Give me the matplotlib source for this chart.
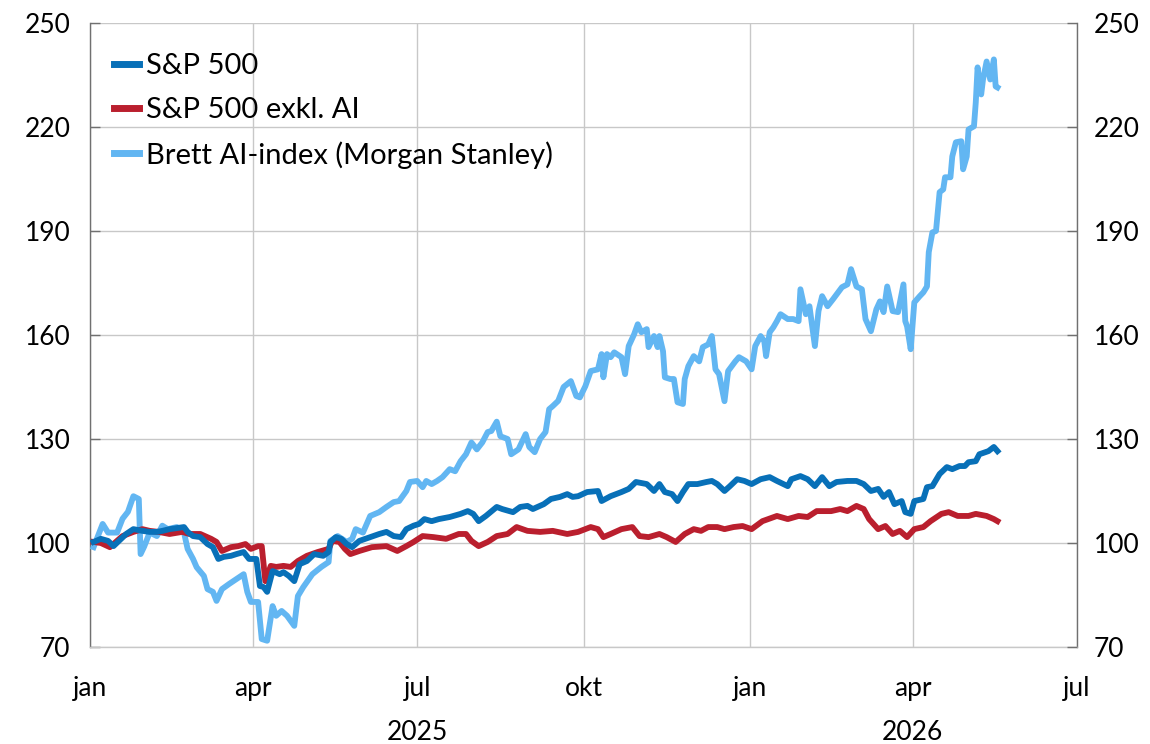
import numpy as np
import matplotlib
matplotlib.use("Agg")
import matplotlib.pyplot as plt
import matplotlib.transforms as mtransforms

# ---------------- data (days since 2025-01-01, index value) ----------------
START = np.datetime64("2025-01-01")

ai_day = [2, 7, 10, 15, 18, 21, 24, 27, 28, 30, 33, 37, 40, 43, 48, 52, 54, 57, 59, 63,
          65, 68, 70, 73, 77, 81, 85, 87, 89, 93, 95, 98, 101, 103, 106, 109, 113, 115, 118, 123,
          128, 132, 133, 137, 142, 145, 147, 151, 155, 160, 164, 168, 171, 175, 177, 181, 184, 186, 189, 192,
          195, 199, 202, 205, 208, 211, 214, 217, 220, 222, 225, 227, 231, 233, 237, 241, 243, 246, 249, 252,
          254, 256, 259, 262, 266, 269, 271, 274, 277, 281, 283, 284, 286, 288, 290, 294, 296, 298, 301, 303,
          305, 308, 309, 312, 314, 315, 317, 318, 321, 323, 325, 328, 329, 331, 334, 337, 339, 342, 344, 346,
          348, 351, 353, 357, 359, 363, 366, 368, 371, 373, 374, 376, 378, 380, 382, 386, 389, 392, 393, 396,
          398, 401, 403, 405, 408, 411, 416, 419, 421, 424, 427, 429, 432, 435, 437, 439, 441, 444, 447, 450,
          451, 452, 454, 456, 459, 461, 463, 464, 466, 468, 470, 472, 473, 476, 477, 479, 482, 483, 485, 486,
          489, 490, 491, 493, 494, 496, 498, 500, 501, 502]
ai_val = [98.8, 105.5, 103, 103, 107, 109, 113.5, 112.7, 96.8, 99, 103, 102, 105, 104, 104.6, 103, 98.3, 95.4, 93, 90.5,
          86.7, 85.9, 83.3, 86.7, 88.2, 89.6, 91, 85.9, 83, 83, 72.3, 71.8, 81.8, 79, 80.4, 79, 76.1, 84.7, 87.3, 91,
          93.1, 94.5, 100.6, 102, 100.3, 101.2, 104, 103, 107.8, 108.9, 110.4, 111.8, 112.1, 115, 117.6, 117.9, 116.1, 117.9, 117, 117.9,
          119, 121.3, 120.7, 123.6, 125.6, 129, 127, 129, 132, 132.3, 135, 130.8, 130, 125.6, 127, 131.4, 127.7, 126.2, 130, 132,
          138.6, 139.5, 141, 145, 146.7, 142.4, 142, 145.2, 149.6, 150.1, 154.5, 147.8, 154.5, 153.6, 155, 153.6, 148.7, 156.8, 160.2, 163.1,
          160.8, 161.7, 156.5, 159.7, 156.5, 159.7, 155.3, 147.8, 147.3, 147.3, 140.6, 140.1, 147.3, 151, 153.9, 152.4, 156.5, 157.3, 159.7, 150.1,
          148.7, 140.9, 149.6, 152.4, 153.6, 152.4, 150.1, 156.8, 159.7, 158.2, 153.9, 160.8, 162.2, 164, 166, 164.6, 164.6, 164, 173.2, 166,
          168.3, 156.8, 166.9, 171.2, 168.3, 170.3, 173.8, 174.6, 179, 174, 173.2, 164.6, 161.1, 167.4, 169.7, 166.6, 174, 166.9, 166.6, 174.6,
          164, 162.5, 155.9, 169.4, 171.2, 172.3, 174, 183.9, 189.6, 190, 201.2, 202, 205.5, 205.5, 211.5, 215.6, 215.9, 207.8, 211.5, 219.3,
          220.2, 227.1, 237.2, 229.4, 233.7, 238.9, 233.7, 239.5, 231.7, 231.4]

sp_day = [2, 6, 10, 13, 16, 20, 24, 29, 33, 37, 40, 44, 48, 52, 54, 57, 61, 65, 68, 71,
          74, 78, 81, 85, 88, 92, 94, 96, 98, 101, 105, 107, 110, 113, 116, 120, 124, 129, 132, 133,
          136, 139, 142, 145, 149, 155, 160, 164, 168, 172, 175, 179, 182, 185, 189, 193, 199, 205, 209, 212,
          215, 219, 225, 228, 234, 238, 242, 245, 251, 255, 260, 264, 267, 270, 275, 281, 283, 288, 294, 298,
          302, 308, 312, 315, 318, 322, 325, 328, 331, 336, 341, 344, 347, 351, 354, 358, 362, 366, 371, 376,
          380, 386, 388, 393, 397, 401, 405, 409, 413, 419, 424, 428, 432, 436, 439, 442, 445, 449, 451, 454,
          456, 461, 463, 466, 470, 474, 477, 481, 484, 486, 490, 492, 497, 500, 502]
sp_val = [100.3, 101.2, 100.6, 99.1, 100.6, 102.6, 104, 103.5, 103.2, 103.2, 103.5, 104, 104.3, 104.6, 103.2, 102, 101.7, 99.7, 98.8, 95.4,
          96, 96.3, 96.8, 97.4, 95.4, 95.4, 87.6, 87.3, 85.9, 91.9, 91, 91.6, 90.5, 89, 93.9, 94.8, 96.8, 96.3, 97.4, 100.3,
          101.7, 101.2, 99.7, 98.8, 100.6, 101.7, 102.6, 103.2, 102, 101.7, 104, 105, 105.5, 106.9, 106.3, 106.9, 107.5, 108.4, 109.2, 108.4,
          106.3, 107.8, 110.4, 109.8, 108.9, 110.4, 110.7, 109.8, 111.2, 112.7, 113.3, 114.1, 113.3, 113.5, 114.7, 115, 112.1, 113.5, 114.7, 115.6,
          117.6, 117, 115, 117, 114.7, 114.1, 112.1, 114.7, 117, 117, 117.6, 117.9, 117, 115, 116.4, 118.4, 117.9, 117, 118.4, 119,
          117.9, 116.4, 118.4, 119.3, 118.4, 116.4, 119, 116.4, 117.6, 117.9, 117.9, 117, 115, 115.6, 113.3, 114.7, 111.2, 112.1, 108.9, 108.4,
          112.1, 112.7, 116.1, 116.4, 119.9, 121.9, 121.3, 122.2, 122.2, 123.3, 123.6, 125.6, 126.5, 127.7, 126.5]

ex_day = [2, 6, 11, 18, 24, 29, 33, 38, 44, 51, 55, 61, 67, 70, 73, 78, 82, 86, 89, 93,
          95, 97, 100, 103, 107, 111, 115, 120, 126, 132, 134, 138, 141, 144, 149, 156, 164, 170, 175, 179,
          184, 190, 197, 204, 208, 211, 215, 220, 225, 231, 236, 242, 249, 256, 264, 270, 277, 281, 284, 288,
          294, 300, 304, 309, 315, 319, 324, 329, 334, 338, 342, 347, 351, 356, 361, 366, 372, 380, 386, 392,
          397, 402, 410, 415, 419, 424, 428, 431, 436, 440, 444, 448, 452, 456, 461, 465, 471, 475, 480, 486,
          490, 496, 500, 502]
ex_val = [100.3, 100, 98.8, 102, 103.2, 104, 103.5, 103.2, 102.6, 103.2, 102.6, 102.6, 101.2, 100.3, 97.7, 98.8, 99.1, 99.7, 98.3, 99.1,
          99.1, 89, 93.4, 93.1, 93.4, 93.1, 94.8, 96.3, 97.4, 98.3, 100.6, 100.3, 98.3, 96.8, 97.7, 98.8, 99.1, 97.7, 99.1, 100.3,
          102, 101.7, 101.2, 102.6, 102.6, 100.6, 99.1, 100.3, 102, 102.6, 104.6, 103.5, 103.2, 103.5, 102.6, 103.2, 104.6, 104, 101.7, 102.6,
          104, 104.6, 102, 101.7, 102.6, 101.7, 100.3, 102.6, 104, 103.5, 104.6, 104.6, 104, 104.6, 104.9, 104, 106.3, 107.8, 106.9, 107.8,
          107.5, 109.2, 109.2, 109.8, 109.2, 110.7, 109.8, 106.9, 104, 104.9, 102.6, 103.5, 101.7, 104, 104.6, 106.3, 108.4, 108.9, 107.8, 107.8,
          108.4, 107.8, 106.9, 106.3]

series_names = ["S&P 500", "S&P 500 exkl. AI", "Brett AI-index (Morgan Stanley)"]
series_colors = ["#0870B8", "#BA1F2E", "#62B6F2"]

yticks = [70, 100, 130, 160, 190, 220, 250]
xtick_dates = ["2025-01-01", "2025-04-01", "2025-07-01", "2025-10-01",
               "2026-01-01", "2026-04-01", "2026-07-01"]
xtick_labels = ["jan", "apr", "jul", "okt", "jan", "apr", "jul"]
year_labels = ["2025", "2026"]
year_pos = ["2025-07-01", "2026-04-01"]

# ---------------- plot ----------------
plt.rcParams["font.family"] = ["Lato", "DejaVu Sans"]
fig = plt.figure(figsize=(11.5, 7.44), dpi=100)
L, R, T, B = 90, 1077, 23, 647
ax = fig.add_axes([L / 1150, 1 - B / 744, (R - L) / 1150, (B - T) / 744])

def to_dates(days):
    return START + np.array(days).astype("timedelta64[D]")

grid_c = "#C8C8C8"
LW = 4.2
ax.plot(to_dates(ai_day), ai_val, color=series_colors[2], lw=LW, zorder=3,
        solid_joinstyle="round", label=series_names[2])
ax.plot(to_dates(ex_day), ex_val, color=series_colors[1], lw=LW, zorder=4,
        solid_joinstyle="round", label=series_names[1])
ax.plot(to_dates(sp_day), sp_val, color=series_colors[0], lw=LW, zorder=5,
        solid_joinstyle="round", label=series_names[0])

xt = np.array(xtick_dates, dtype="datetime64[D]")
ax.set_xlim(xt[0], xt[-1])
ax.set_ylim(70, 250)
ax.set_yticks(yticks)
ax.set_xticks(xt)
ax.set_xticklabels(xtick_labels)

ax.grid(True, color=grid_c, lw=1.0, zorder=0)
ax.set_axisbelow(True)

for s in ["left", "right"]:
    ax.spines[s].set_color("#707070")
    ax.spines[s].set_linewidth(1.0)
ax.spines["top"].set_visible(False)
ax.spines["bottom"].set_color(grid_c)
ax.spines["bottom"].set_linewidth(1.0)

FS = 19
ax.tick_params(axis="y", which="both", left=True, right=False, labelleft=True,
               labelright=False, direction="in", length=7, width=1.0,
               color="#707070", labelsize=FS, pad=14)
ax.tick_params(axis="x", length=0, labelsize=FS, pad=21)

ax2 = ax.twinx()
ax2.set_ylim(ax.get_ylim())
ax2.set_yticks(yticks)
ax2.tick_params(axis="y", direction="in", length=7, width=1.0, color="#707070",
                labelsize=FS, pad=12)
for s in ax2.spines.values():
    s.set_visible(False)

trans = mtransforms.blended_transform_factory(ax.transData, ax.transAxes)
for lab, pos in zip(year_labels, year_pos):
    ax.text(np.datetime64(pos), -0.137, lab, transform=trans, ha="center",
            va="center", fontsize=FS)

handles, labels = ax.get_legend_handles_labels()
order = [2, 1, 0]
leg = ax.legend([handles[i] for i in order], [labels[i] for i in order],
                loc="upper left", bbox_to_anchor=(0.004, 0.985), frameon=False,
                fontsize=21, handlelength=0.85, handletextpad=0.25,
                labelspacing=0.62, borderaxespad=0.3)
for line in leg.get_lines():
    line.set_linewidth(5)

fig.savefig("out.png", dpi=100)
